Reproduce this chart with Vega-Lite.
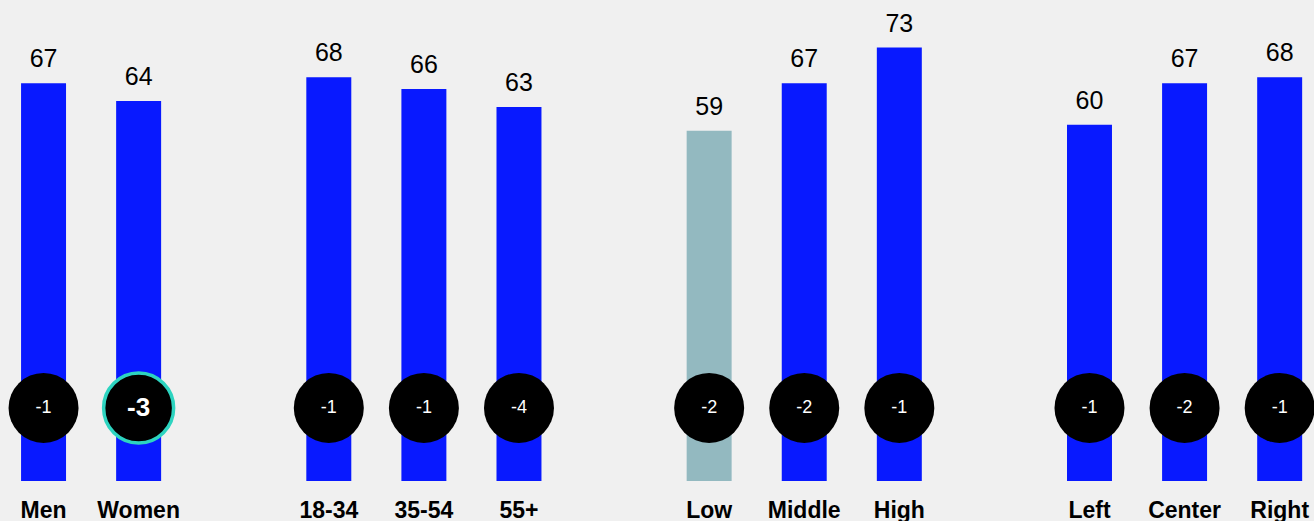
{
  "$schema": "https://vega.github.io/schema/vega-lite/v6.json",
  "autosize": {"type": "none"},
  "padding": {"top": 0, "left": 0, "right": 0, "bottom": 40},
  "width": 1314,
  "height": 481,
  "background": "#f0f0f0",
  "config": {"view": {"stroke": null}, "font": "Liberation Sans"},
  "data": {
    "values": [
      {"cat": "Men", "value": 67, "change": "-1"},
      {"cat": "Women", "value": 64, "change": "-3"},
      {"cat": "18-34", "value": 68, "change": "-1"},
      {"cat": "35-54", "value": 66, "change": "-1"},
      {"cat": "55+", "value": 63, "change": "-4"},
      {"cat": "Low", "value": 59, "change": "-2"},
      {"cat": "Middle", "value": 67, "change": "-2"},
      {"cat": "High", "value": 73, "change": "-1"},
      {"cat": "Left", "value": 60, "change": "-1"},
      {"cat": "Center", "value": 67, "change": "-2"},
      {"cat": "Right", "value": 68, "change": "-1"}
    ]
  },
  "encoding": {
    "x": {
      "field": "cat",
      "type": "nominal",
      "sort": null,
      "scale": {
        "domain": ["Men", "Women", " ", "18-34", "35-54", "55+", "  ", "Low", "Middle", "High", "   ", "Left", "Center", "Right"],
        "paddingInner": 0.527,
        "paddingOuter": 0.173,
        "align": 0.64
      },
      "axis": {
        "title": null,
        "domain": false,
        "ticks": false,
        "tickSize": 0,
        "labelPadding": 18,
        "labelAngle": 0,
        "labelFontSize": 23,
        "labelFontWeight": "bold",
        "labelColor": "#000000",
        "labelBaseline": "top"
      }
    }
  },
  "layer": [
    {
      "mark": {"type": "bar"},
      "encoding": {
        "y": {"field": "value", "type": "quantitative", "scale": {"domain": [0, 81], "nice": false, "zero": true}, "axis": null},
        "color": {
          "condition": {"test": "datum.cat === 'Low'", "value": "#93b9c0"},
          "value": "#0819ff"
        }
      }
    },
    {
      "mark": {"type": "text", "fontSize": 25, "dy": -16, "baseline": "alphabetic", "color": "#000000"},
      "encoding": {
        "y": {"field": "value", "type": "quantitative"},
        "text": {"field": "value", "type": "nominal"}
      }
    },
    {
      "mark": {"type": "point", "shape": "circle", "filled": true, "size": 4900, "opacity": 1, "fill": "#000000"},
      "encoding": {
        "y": {"datum": 12.3, "type": "quantitative"},
        "stroke": {
          "condition": {"test": "datum.cat === 'Women'", "value": "#2dd4c0"},
          "value": null
        },
        "strokeWidth": {
          "condition": {"test": "datum.cat === 'Women'", "value": 3.5},
          "value": 0
        }
      }
    },
    {
      "transform": [{"filter": "datum.cat !== 'Women'"}],
      "mark": {"type": "text", "baseline": "middle", "color": "#ffffff", "fontSize": 18},
      "encoding": {
        "y": {"datum": 12.3, "type": "quantitative"},
        "text": {"field": "change", "type": "nominal"}
      }
    },
    {
      "transform": [{"filter": "datum.cat === 'Women'"}],
      "mark": {"type": "text", "baseline": "middle", "color": "#ffffff", "fontSize": 26, "fontWeight": "bold"},
      "encoding": {
        "y": {"datum": 12.3, "type": "quantitative"},
        "text": {"field": "change", "type": "nominal"}
      }
    }
  ]
}
